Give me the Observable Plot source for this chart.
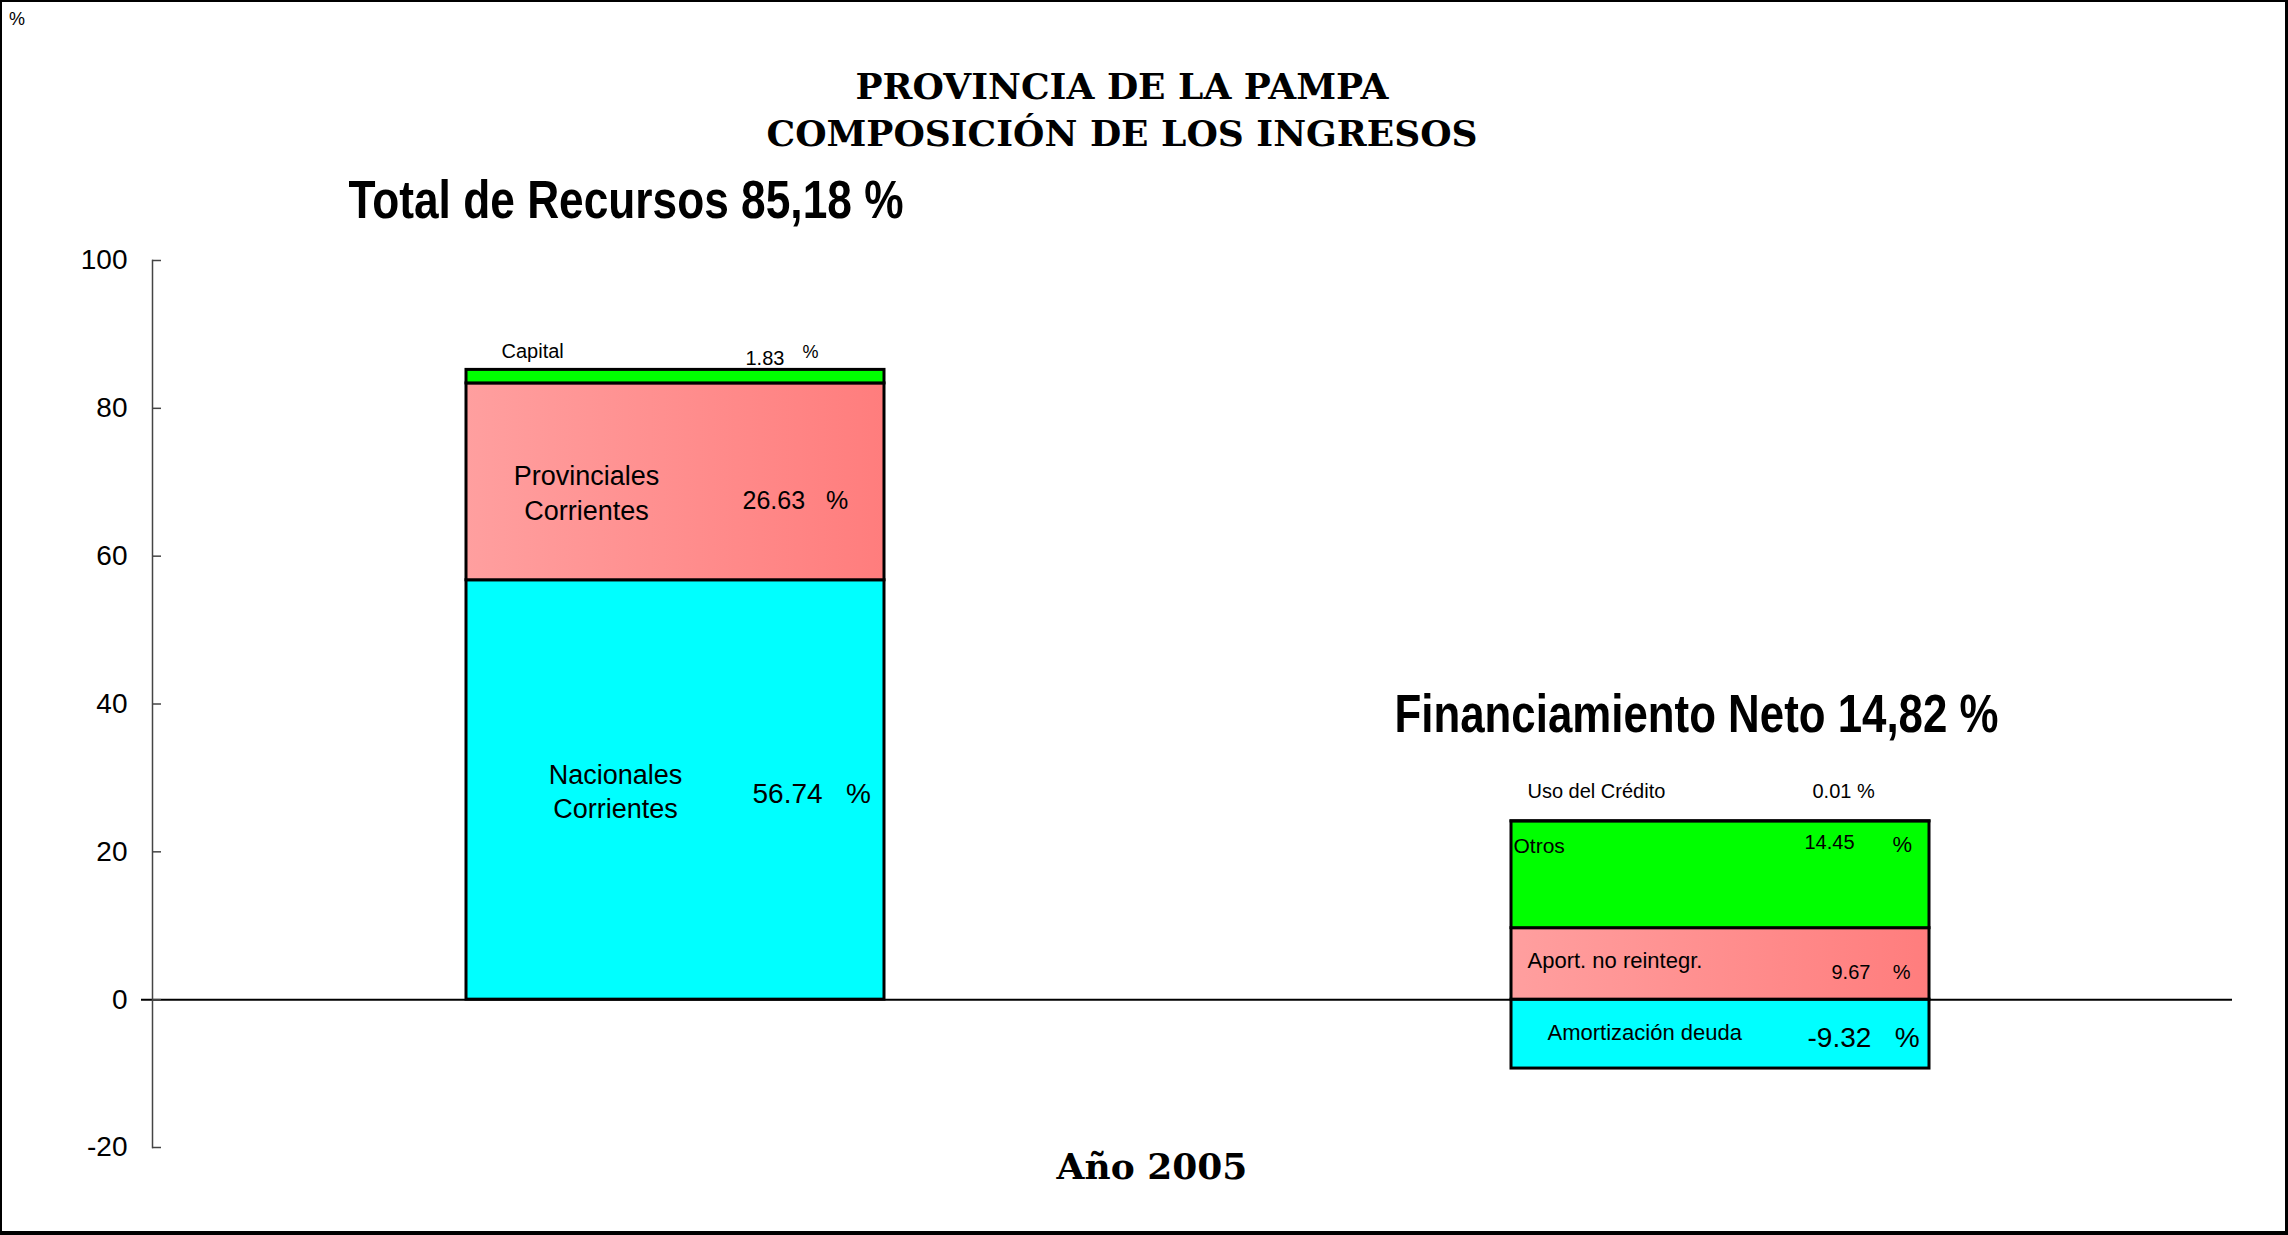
<!DOCTYPE html>
<html>
<head>
<meta charset="utf-8">
<script src="https://cdn.jsdelivr.net/npm/d3@7"></script>
<script src="https://cdn.jsdelivr.net/npm/@observablehq/plot@0.6"></script>
<style>
html, body { margin: 0; padding: 0; background: #fff; }
#page { position: relative; width: 2288px; height: 1235px; overflow: hidden; background: #fff; font-family: "Liberation Sans", Arial, sans-serif; color: #000; }
#border { position: absolute; left: 0; top: 0; right: 0; bottom: 0; box-sizing: border-box; border-style: solid; border-color: #000; border-width: 2px 3px 4px 2px; pointer-events: none; }
#header { position: relative; height: 160px; }
#pct { position: absolute; left: 9px; top: 10px; font-size: 18px; line-height: 18px; }
#title { position: absolute; left: 0; top: 63px; width: 2244px; text-align: center; font-family: "DejaVu Serif", "Liberation Serif", serif; font-weight: bold; font-size: 36px; line-height: 47px; }
#chart svg { display: block; overflow: visible; }
#caption { position: relative; top: -3px; width: 2304px; text-align: center; font-family: "DejaVu Serif", "Liberation Serif", serif; font-weight: bold; font-size: 36px; line-height: 18px; }
</style>
</head>
<body>
<div id="page">
  <div id="header">
    <div id="pct">%</div>
    <div id="title">PROVINCIA DE LA PAMPA<br>COMPOSICIÓN DE LOS INGRESOS</div>
  </div>
  <div id="chart"></div>
  <div id="caption">Año 2005</div>
  <div id="border"></div>
</div>
<script>
// ---------- data ----------
const groups = ["Total de Recursos", "Financiamiento Neto"];
const groupTotals = [85.18, 14.82];

const recursosNames = ["Nacionales\nCorrientes", "Provinciales\nCorrientes", "Capital"];
const recursosValues = [56.74, 26.63, 1.83];
const recursosLayers = [0, 1, 2];

const financNames = ["Amortización deuda", "Aport. no reintegr.", "Otros", "Uso del Crédito"];
const financValues = [-9.32, 9.67, 14.45, 0.01];
const financLayers = [0, 1, 2, 2];

const layerNames = ["Inferior", "Medio", "Superior"];
const yTicks = [-20, 0, 20, 40, 60, 80, 100];

// ---------- table built from the arrays ----------
const segments = [
  ...recursosNames.map((n, i) => ({group: groups[0], name: n, value: recursosValues[i], layer: layerNames[recursosLayers[i]]})),
  ...financNames.map((n, i) => ({group: groups[1], name: n, value: financValues[i], layer: layerNames[financLayers[i]]}))
];

// ---------- label layout (styling, not data) ----------
const nameStyle = {
  "Nacionales\nCorrientes": {anchor: "middle", dx: -60, dy: 0, size: 27, lh: 1.26},
  "Provinciales\nCorrientes": {anchor: "middle", dx: -89, dy: 9.5, size: 27, lh: 1.3},
  "Capital": {anchor: "start", dx: -174, dy: -25, size: 20},
  "Amortización deuda": {anchor: "start", dx: -173, dy: -1, size: 22},
  "Aport. no reintegr.": {anchor: "start", dx: -193, dy: -3, size: 22},
  "Otros": {anchor: "start", dx: -207, dy: -29, size: 21},
  "Uso del Crédito": {anchor: "start", dx: -193, dy: -29.5, size: 20}
};
const valueStyle = {
  "Nacionales\nCorrientes": {dx: 77, dy: 4, size: 28, gap: "   "},
  "Provinciales\nCorrientes": {dx: 67, dy: 19, size: 25, gap: "   "},
  "Capital": {dx: 70, dy: -18, size: 20, pct: {dx: 127, dy: -24, size: 18}},
  "Amortización deuda": {dx: 87, dy: 4, size: 28, gap: "   "},
  "Aport. no reintegr.": {dx: 111, dy: 9, size: 20, gap: "    "},
  "Otros": {dx: 84, dy: -32, size: 20, pct: {dx: 172, dy: -30, size: 22}},
  "Uso del Crédito": {dx: 92, dy: -29.5, size: 20, gap: " "}
};
const headerStyle = [{dx: -327, dy: -152}, {dx: -326, dy: -158}];

const font = "'Liberation Sans', Arial, sans-serif";
const narrow = "'Liberation Sans Narrow', 'Arial Narrow', 'Liberation Sans', Arial, sans-serif";

const labelMarks = [];
for (const seg of segments) {
  const ns = nameStyle[seg.name];
  labelMarks.push(Plot.text(segments, Plot.stackY({
    x: "group", y: "value",
    text: d => d.name === seg.name ? d.name : null,
    textAnchor: ns.anchor, lineAnchor: "middle", lineHeight: ns.lh || 1,
    dx: ns.dx, dy: ns.dy, fontSize: ns.size, fontFamily: font, fill: "#000"
  })));
  const vs = valueStyle[seg.name];
  const txt = vs.pct ? seg.value.toFixed(2) : seg.value.toFixed(2) + vs.gap + "%";
  labelMarks.push(Plot.text(segments, Plot.stackY({
    x: "group", y: "value",
    text: d => d.name === seg.name ? txt : null,
    textAnchor: "start", lineAnchor: "middle",
    dx: vs.dx, dy: vs.dy, fontSize: vs.size, fontFamily: font, fill: "#000"
  })));
  if (vs.pct) {
    labelMarks.push(Plot.text(segments, Plot.stackY({
      x: "group", y: "value",
      text: d => d.name === seg.name ? "%" : null,
      textAnchor: "start", lineAnchor: "middle",
      dx: vs.pct.dx, dy: vs.pct.dy, fontSize: vs.pct.size, fontFamily: font, fill: "#000"
    })));
  }
}

const headerText = (d, i) => `${d} ${groupTotals[i].toFixed(2).replace(".", ",")} %`;
const headerMarks = groups.map((g, gi) => Plot.text(groups, {
  x: d => d, y: (d, i) => groupTotals[i],
  text: (d, i) => i === gi ? headerText(d, i) : null,
  textAnchor: "start", lineAnchor: "bottom", dx: headerStyle[gi].dx, dy: headerStyle[gi].dy,
  fontSize: 54, fontWeight: "bold", fontFamily: narrow, fill: "#000"
}));

const gradientDefs = () => {
  const defs = d3.create("svg:defs");
  const g = defs.append("linearGradient").attr("id", "rosa")
    .attr("x1", "0").attr("x2", "1").attr("y1", "0").attr("y2", "0");
  g.append("stop").attr("offset", "0").attr("stop-color", "#FF9F9F");
  g.append("stop").attr("offset", "1").attr("stop-color", "#FF7D7D");
  return defs.node();
};

const W = 2288, H = 1000, ML = 152, MR = 45, MT = 100, MB = 13;
const frameW = W - ML - MR;

const chart = Plot.plot({
  width: W,
  height: H,
  marginLeft: ML,
  marginRight: MR,
  marginTop: MT,
  marginBottom: MB,
  style: {fontFamily: font, fontSize: "20px", background: "transparent", overflow: "visible"},
  x: {domain: groups, paddingInner: 0.6, paddingOuter: 0.3, axis: null},
  y: {domain: [-20, 100], label: null},
  color: {type: "ordinal", domain: layerNames, range: ["#00FFFF", "url(#rosa)", "#00FF00"]},
  marks: [
    gradientDefs,
    Plot.ruleY([0], {stroke: "#000", strokeWidth: 2, insetLeft: -11, insetRight: 11}),
    Plot.barY(segments, {x: "group", y: "value", fill: "layer", stroke: "#000", strokeWidth: 3}),
    Plot.ruleY(yTicks, {stroke: "#444", strokeWidth: 1.5, insetRight: frameW - 9}),
    Plot.frame({anchor: "left", stroke: "#444", strokeWidth: 1.5}),
    Plot.axisY({ticks: yTicks, tickSize: 0, tickPadding: 25, fontSize: 28, label: null, fontFamily: font, tickFormat: d => String(d)}),
    ...headerMarks,
    ...labelMarks
  ]
});

// condensed look for the two group headers
const headerWidths = {};
headerWidths[headerText(groups[0], 0)] = 555;
headerWidths[headerText(groups[1], 1)] = 604;
d3.select(chart).selectAll("text").each(function() {
  const w = headerWidths[this.textContent];
  if (w) { this.setAttribute("textLength", w); this.setAttribute("lengthAdjust", "spacingAndGlyphs"); }
});

document.getElementById("chart").appendChild(chart);
</script>
</body>
</html>
